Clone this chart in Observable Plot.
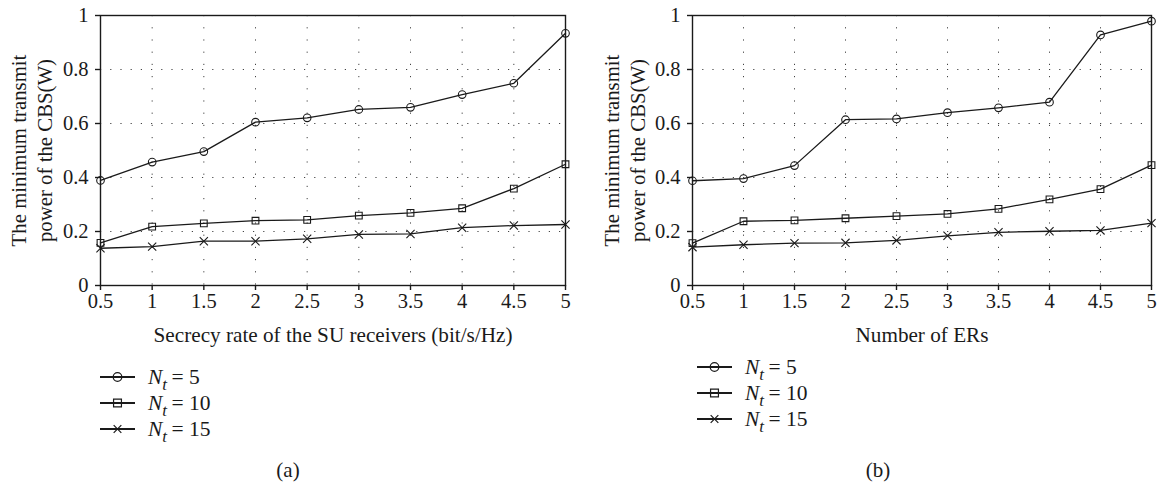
<!DOCTYPE html>
<html><head><meta charset="utf-8">
<script src="https://cdn.jsdelivr.net/npm/d3@7"></script>
<script src="https://cdn.jsdelivr.net/npm/@observablehq/plot@0.6"></script>
<style>
body{margin:0;background:#fff;font-family:"Liberation Serif",serif;}
#wrap{position:relative;width:1164px;height:483px;overflow:hidden;background:#fff;}
.abs{position:absolute;}
</style></head><body><div id="wrap"></div>
<script>
// ---- data ----
const xValues = [0.5, 1, 1.5, 2, 2.5, 3, 3.5, 4, 4.5, 5];
const xTicks = [0.5, 1, 1.5, 2, 2.5, 3, 3.5, 4, 4.5, 5];
const yTicks = [0, 0.2, 0.4, 0.6, 0.8, 1];
const seriesNt = [5, 10, 15];
const seriesNames = ["Nt = 5", "Nt = 10", "Nt = 15"];
const seriesSymbols = ["circle", "square", "times"];

// panel (a): secrecy rate of the SU receivers
const a_nt5  = [0.389, 0.457, 0.496, 0.605, 0.621, 0.652, 0.660, 0.707, 0.749, 0.934];
const a_nt10 = [0.158, 0.218, 0.230, 0.240, 0.243, 0.259, 0.269, 0.286, 0.359, 0.449];
const a_nt15 = [0.138, 0.144, 0.164, 0.164, 0.173, 0.189, 0.191, 0.214, 0.222, 0.226];
// panel (b): number of ERs
const b_nt5  = [0.388, 0.396, 0.444, 0.614, 0.617, 0.640, 0.658, 0.679, 0.928, 0.979];
const b_nt10 = [0.157, 0.238, 0.241, 0.249, 0.257, 0.265, 0.284, 0.319, 0.357, 0.446];
const b_nt15 = [0.142, 0.151, 0.157, 0.158, 0.167, 0.184, 0.197, 0.201, 0.204, 0.231];

const yLabel = "The minimum transmit\npower of the CBS(W)";
const xLabelA = "Secrecy rate of the SU receivers (bit/s/Hz)";
const xLabelB = "Number of ERs";
const captions = ["(a)", "(b)"];

// ---- helpers ----
const FONT = "Liberation Serif";
const INK = "#1a1a1a";
function rows(series) {
  return series.flatMap((vals, i) => vals.map((v, j) => ({x: xValues[j], y: v, series: seriesNames[i]})));
}
const fmt = d => String(d);

function panel({series, xLabel, width, marginLeft, marginRight, yDx}) {
  const data = rows(series);
  return Plot.plot({
    width, height: 350,
    marginLeft, marginRight, marginTop: 15, marginBottom: 65,
    style: {fontFamily: FONT, fontSize: "20px", color: INK, background: "transparent", overflow: "visible"},
    x: {domain: [0.5, 5], ticks: xTicks, tickFormat: fmt},
    y: {domain: [0, 1], ticks: yTicks, tickFormat: fmt},
    symbol: {domain: seriesNames, range: seriesSymbols},
    marks: [
      Plot.gridX(xTicks, {stroke: "#444", strokeOpacity: 1, strokeWidth: 1, strokeDasharray: "1.2,11"}),
      Plot.gridY(yTicks, {stroke: "#444", strokeOpacity: 1, strokeWidth: 1, strokeDasharray: "1.2,9"}),
      Plot.frame({stroke: INK, strokeWidth: 1.4}),
      Plot.axisX({ticks: xTicks, tickFormat: fmt, tickSize: 5, tickPadding: 3, label: null, stroke: INK, strokeWidth: 1.4, fontSize: 20.5}),
      Plot.axisY({ticks: yTicks, tickFormat: fmt, tickSize: 5, tickPadding: 7, label: null, stroke: INK, strokeWidth: 1.4, fontSize: 20.5}),
      Plot.line(data, {x: "x", y: "y", z: "series", stroke: INK, strokeWidth: 1.3}),
      Plot.dot(data, {x: "x", y: "y", symbol: "series", stroke: INK, fill: "none", strokeWidth: 1.1, r: 3.8}),
      Plot.text([xLabel], {frameAnchor: "bottom", dy: 50, lineAnchor: "middle", fontSize: 21.2, fill: INK}),
      Plot.text([yLabel], {frameAnchor: "left", rotate: -90, dx: yDx, lineAnchor: "middle", textAnchor: "middle", lineHeight: 1.27, fontSize: 20.8, fill: INK})
    ]
  });
}

const wrap = document.getElementById("wrap");
function place(node, left, top) {
  node.classList.add("abs");
  node.style.left = left + "px";
  node.style.top = top + "px";
  wrap.appendChild(node);
}

place(panel({series: [a_nt5, a_nt10, a_nt15], xLabel: xLabelA, width: 580, marginLeft: 100, marginRight: 15, yDx: -70}), 0, 0);
place(panel({series: [b_nt5, b_nt10, b_nt15], xLabel: xLabelB, width: 584, marginLeft: 112, marginRight: 13, yDx: -69}), 580, 0);

// ---- legends ----
const symbolTypes = {circle: d3.symbolCircle, square: d3.symbolSquare, times: d3.symbolTimes};
const symbolSizes = {circle: Math.PI * 4.3 * 4.3, square: 62, times: 40};
function legend(left, top) {
  const svg = d3.create("svg").attr("width", 220).attr("height", 90)
    .style("overflow", "visible");
  seriesNames.forEach((name, i) => {
    const g = svg.append("g").attr("transform", `translate(0,${10 + i * 26})`);
    g.append("line").attr("x1", 0).attr("x2", 35).attr("y1", 0).attr("y2", 0)
      .attr("stroke", INK).attr("stroke-width", 2);
    g.append("path").attr("transform", "translate(17.5,0)")
      .attr("d", d3.symbol(symbolTypes[seriesSymbols[i]], symbolSizes[seriesSymbols[i]])())
      .attr("fill", "none")
      .attr("stroke", INK).attr("stroke-width", 1.2);
    const t = g.append("text").attr("x", 48).attr("y", 7)
      .attr("font-family", FONT).attr("font-size", 21.5).attr("fill", INK);
    t.append("tspan").attr("font-style", "italic").text("N");
    t.append("tspan").attr("font-style", "italic").attr("font-size", 17).attr("dy", 6).text("t");
    t.append("tspan").attr("dy", -6).text("\u2009= " + seriesNt[i]);
  });
  place(svg.node(), left, top);
}
legend(100, 367);
legend(697, 357);

// ---- captions ----
[[288, captions[0]], [878, captions[1]]].forEach(([cx, txt]) => {
  const d = document.createElement("div");
  d.textContent = txt;
  d.style.cssText = `font-family:${FONT};font-size:21px;color:${INK};width:60px;text-align:center;line-height:22px;`;
  place(d, cx - 30, 459);
});
</script>
</body></html>
